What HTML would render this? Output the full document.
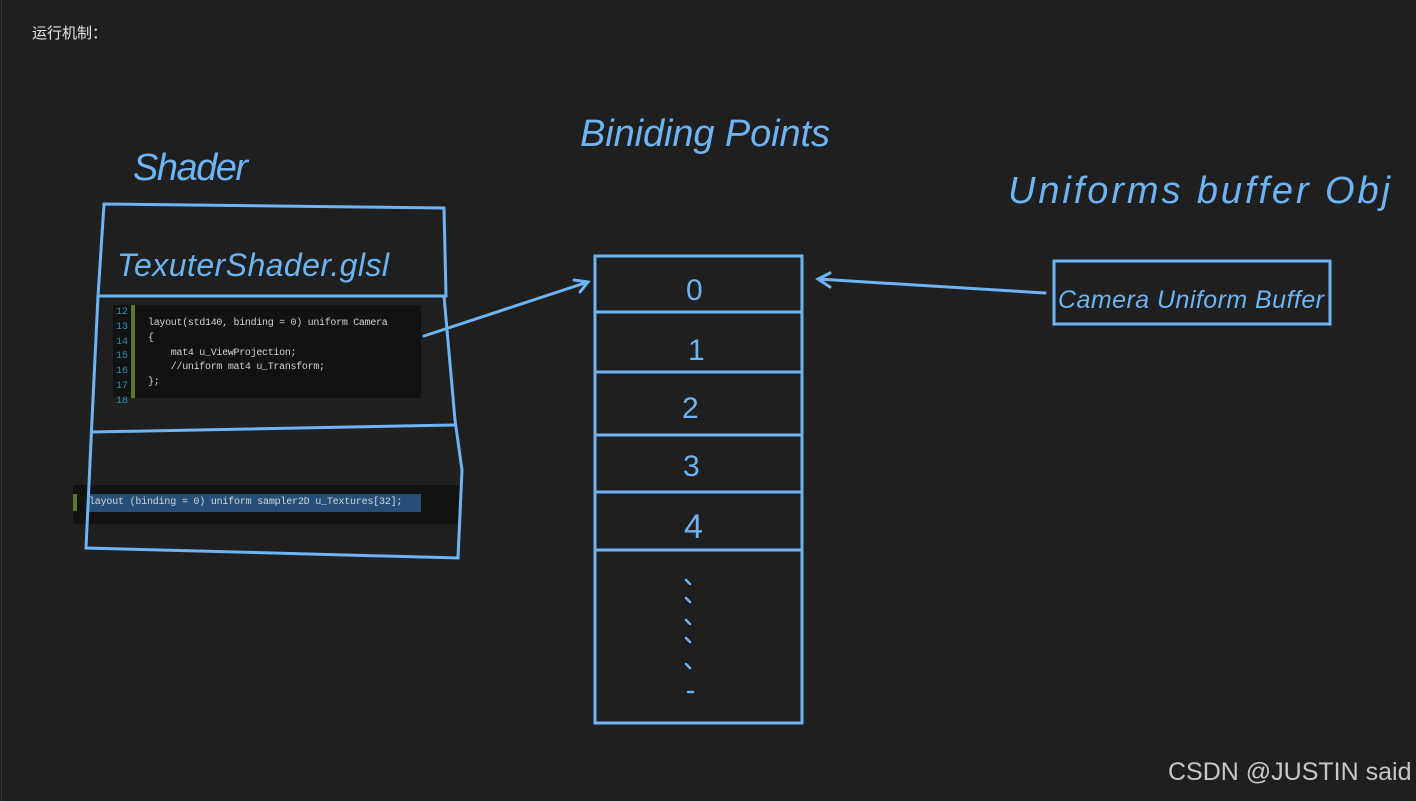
<!DOCTYPE html>
<html><head><meta charset="utf-8"><style>
body{margin:0;width:1416px;height:801px;background:#1f1f1f;overflow:hidden;position:relative;font-family:"Liberation Sans","Noto Sans CJK SC",sans-serif}
.t{position:absolute;left:32px;top:22px;color:#e6e6e6;font-size:15px}
.code{position:absolute;background:#121212;font-family:"Liberation Mono",monospace;font-size:10px;color:#d4d4d4}
.wm{position:absolute;left:1168px;top:758px;color:#c8c8c8;font-size:25px}
</style></head><body>
<div style="position:absolute;left:1px;top:0;width:1px;height:801px;background:#333"></div>
<div class="t">运行机制：</div>
<div class="code" style="left:113px;top:305px;width:308px;height:93px;">
 <div style="position:absolute;left:18px;top:0;width:4px;height:93px;background:#577a2c"></div>
 <div style="position:absolute;left:3px;top:1px;color:#2b91af;line-height:14.8px;font-size:10px">12<br>13<br>14<br>15<br>16<br>17<br>18</div>
 <div style="position:absolute;left:35px;top:12px;line-height:14.8px;white-space:pre;letter-spacing:-0.3px">layout(std140, binding = 0) uniform Camera
{
    mat4 u_ViewProjection;
    //uniform mat4 u_Transform;
};</div>
</div>
<div class="code" style="left:73px;top:485px;width:388px;height:39px;">
 <div style="position:absolute;left:0;top:9px;width:4px;height:17px;background:#577a2c"></div>
 <div style="position:absolute;left:16px;top:9px;width:332px;height:18px;background:#264f78"></div>
 <div style="position:absolute;left:16px;top:12px;white-space:pre;letter-spacing:-0.2px">layout (binding = 0) uniform sampler2D u_Textures[32];</div>
</div>
<svg width="1416" height="801" style="position:absolute;left:0;top:0" fill="none" stroke="#6cb4f4" stroke-width="3" stroke-linecap="round">
 <path d="M104 204 L444 208 L446 296 L98 296 Z"/>
 <path d="M98 296 L92 420 L86 548 L458 558 L462 470 L455 420 L444 296"/>
 <path d="M92 432 L454 425"/>
 <path d="M424 336 L588 282 M574 280 L588 282 L580 292"/>
 <rect x="595" y="256" width="207" height="467"/>
 <path d="M595 312 H802 M595 372 H802 M595 435 H802 M595 492 H802 M595 550 H802"/>
 <rect x="1054" y="261" width="276" height="63"/>
 <path d="M1045 293 L818 279 M830 273 L818 279 L830 287"/>
 <g stroke-width="2.5"><path d="M686 580 l4 4 M686 598 l4 4 M686 620 l4 4 M686 638 l4 4 M686 664 l4 4 M688 692 h5"/></g>
 <g fill="#6cb4f4" stroke="none" font-family="Liberation Sans, sans-serif">
  <text x="133" y="180" font-size="38" font-style="italic" textLength="115">Shader</text>
  <text x="117" y="276" font-size="32" font-style="italic" textLength="272">TexuterShader.glsl</text>
  <text x="580" y="146" font-size="38" font-style="italic" textLength="250">Biniding  Points</text>
  <text x="1008" y="203" font-size="38" font-style="italic" textLength="382">Uniforms  buffer  Obj</text>
  <text x="1058" y="308" font-size="25" font-style="italic" textLength="266">Camera Uniform Buffer</text>
  <text x="686" y="300" font-size="30">0</text>
  <text x="688" y="360" font-size="30">1</text>
  <text x="682" y="418" font-size="30">2</text>
  <text x="683" y="476" font-size="30">3</text>
  <text x="684" y="538" font-size="34">4</text>
 </g>
</svg>
<div class="wm">CSDN @JUSTIN said</div>
</body></html>
